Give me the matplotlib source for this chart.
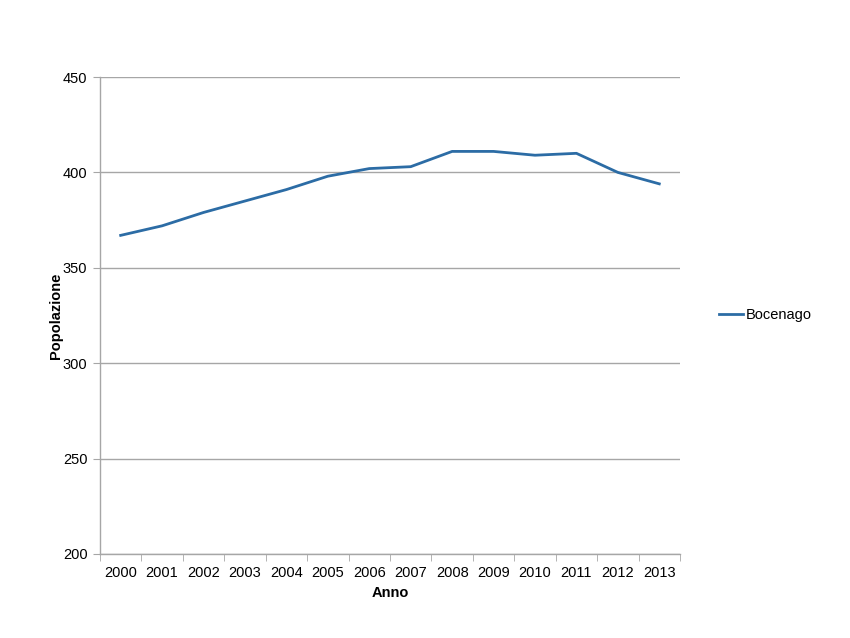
import matplotlib
matplotlib.use('Agg')
import matplotlib.pyplot as plt
import numpy as np

plt.rcParams['font.family'] = ['Liberation Sans', 'DejaVu Sans']

anni = ['2000', '2001', '2002', '2003', '2004', '2005', '2006',
        '2007', '2008', '2009', '2010', '2011', '2012', '2013']
popolazione = [367, 372, 379, 385, 391, 398, 402, 403, 411, 411, 409, 410, 400, 394]
y_ticks = [200, 250, 300, 350, 400, 450]

grid_color = '#a6a6a6'
line_color = '#2c6ca5'

fig = plt.figure(figsize=(8.5, 6.38), dpi=100)
ax = fig.add_axes([0.1176, 0.1317, 0.8 - 0.1176, 0.8793 - 0.1317])

x = np.arange(len(anni))
ax.plot(x, popolazione, color=line_color, linewidth=2.0, label='Bocenago')

ax.set_xlim(-0.5, len(anni) - 0.5)
ax.set_ylim(200, 450)
ax.set_yticks(y_ticks)
ax.set_xticks(x)
ax.set_xticklabels(anni)
ax.set_xticks(np.arange(-0.5, len(anni), 1.0), minor=True)
ax.tick_params(axis='x', which='major', length=0, labelsize=10.5, pad=9)
ax.tick_params(axis='x', which='minor', length=5, color=grid_color, direction='out')
ax.tick_params(axis='y', length=5, color=grid_color, labelsize=10.5, pad=4)

ax.grid(axis='y', color=grid_color, linewidth=1.0)
ax.set_axisbelow(True)
for s in ['top', 'right']:
    ax.spines[s].set_visible(False)
for s in ['left', 'bottom']:
    ax.spines[s].set_color(grid_color)
    ax.spines[s].set_linewidth(1.0)

ax.set_xlabel('Anno', fontsize=10.5, fontweight='bold', labelpad=4)
ax.set_ylabel('Popolazione', fontsize=10.5, fontweight='bold', labelpad=0)

ax.legend(loc='center left', bbox_to_anchor=(1.045, 0.5), frameon=False,
          fontsize=10.5, handlelength=1.6, handletextpad=0.2)

fig.savefig('out.png', dpi=100)
